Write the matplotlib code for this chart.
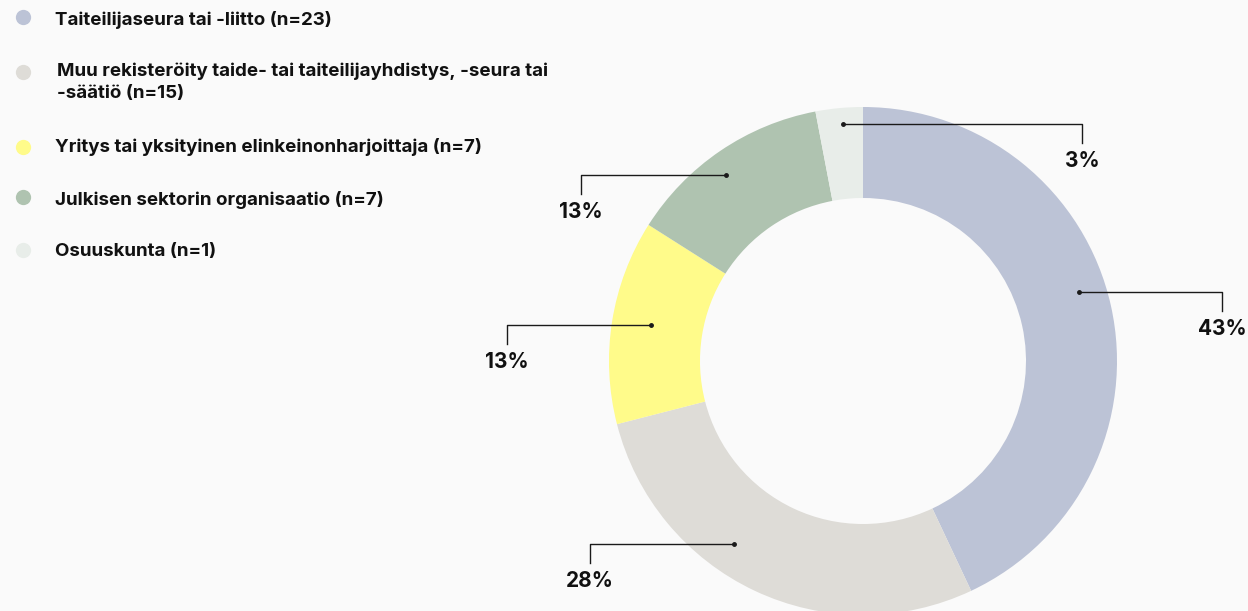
import numpy as np
import matplotlib.pyplot as plt

# data
categories = [
    'Taiteilijaseura tai -liitto (n=23)',
    'Muu rekisteröity taide- tai taiteilijayhdistys, -seura tai\n-säätiö (n=15)',
    'Yritys tai yksityinen elinkeinonharjoittaja (n=7)',
    'Julkisen sektorin organisaatio (n=7)',
    'Osuuskunta (n=1)',
]
shares = [43, 28, 13, 13, 3]
pct_labels = ['43%', '28%', '13%', '13%', '3%']
colors = ['#bcc3d6', '#dedcd7', '#fffb8a', '#afc3b0', '#e8ede9']

plt.rcParams['font.family'] = ['Inter', 'DejaVu Sans']
bg = '#fafafa'

W, H = 1248, 611
fig = plt.figure(figsize=(W / 100, H / 100), dpi=100, facecolor=bg)
ax = fig.add_axes([0, 0, 1, 1])
ax.set_facecolor(bg)

cx, cy = 863, H - 361
R, ring = 254, 91
wedges, _ = ax.pie(shares, colors=colors, startangle=90, counterclock=False,
                   radius=R, center=(cx, cy),
                   wedgeprops=dict(width=ring, edgecolor='none', linewidth=0))
ax.set_xlim(0, W)
ax.set_ylim(0, H)
ax.set_aspect('equal')
ax.axis('off')

# leader lines with elbow + label
nudge = [-5, 10, 0.6, -2.2, 0.6]
anchor_r = [227, 224, 215, 231, 238]
arm = [143, 144, 144, 145, 239]
for w, lab, dn, r, ln in zip(wedges, pct_labels, nudge, anchor_r, arm):
    mid = (w.theta1 + w.theta2) / 2 - dn
    a = np.deg2rad(mid)
    x0, y0 = cx + r * np.cos(a), cy + r * np.sin(a)
    side = 1 if np.cos(a) > 0 or lab == '3%' else -1
    x1 = x0 + side * ln
    y1 = y0 - 19
    ax.plot([x0, x1, x1], [y0, y0, y1], color='#1a1a1a', lw=1)
    ax.plot([x0], [y0], 'o', color='#1a1a1a', ms=2.5)
    ax.text(x1, y1 - 8, lab, ha='center', va='top', fontsize=15,
            fontweight='bold', color='#111111')

# legend
dot_y = [17, 72, 147, 197, 250]
txt_y = [20, 63, 147, 200, 251]
txt_x = [55, 57, 55, 55, 55]
for c, t, yd, yt, xt in zip(colors, categories, dot_y, txt_y, txt_x):
    ax.plot([23], [H - yd], 'o', color=c, ms=11, mec='none')
    ax.text(xt, H - yt, t, ha='left', va='top' if '\n' in t else 'center',
            fontsize=13.5, fontweight='bold', color='#111111',
            linespacing=1.35)

fig.savefig('out.png', dpi=100, facecolor=bg)
